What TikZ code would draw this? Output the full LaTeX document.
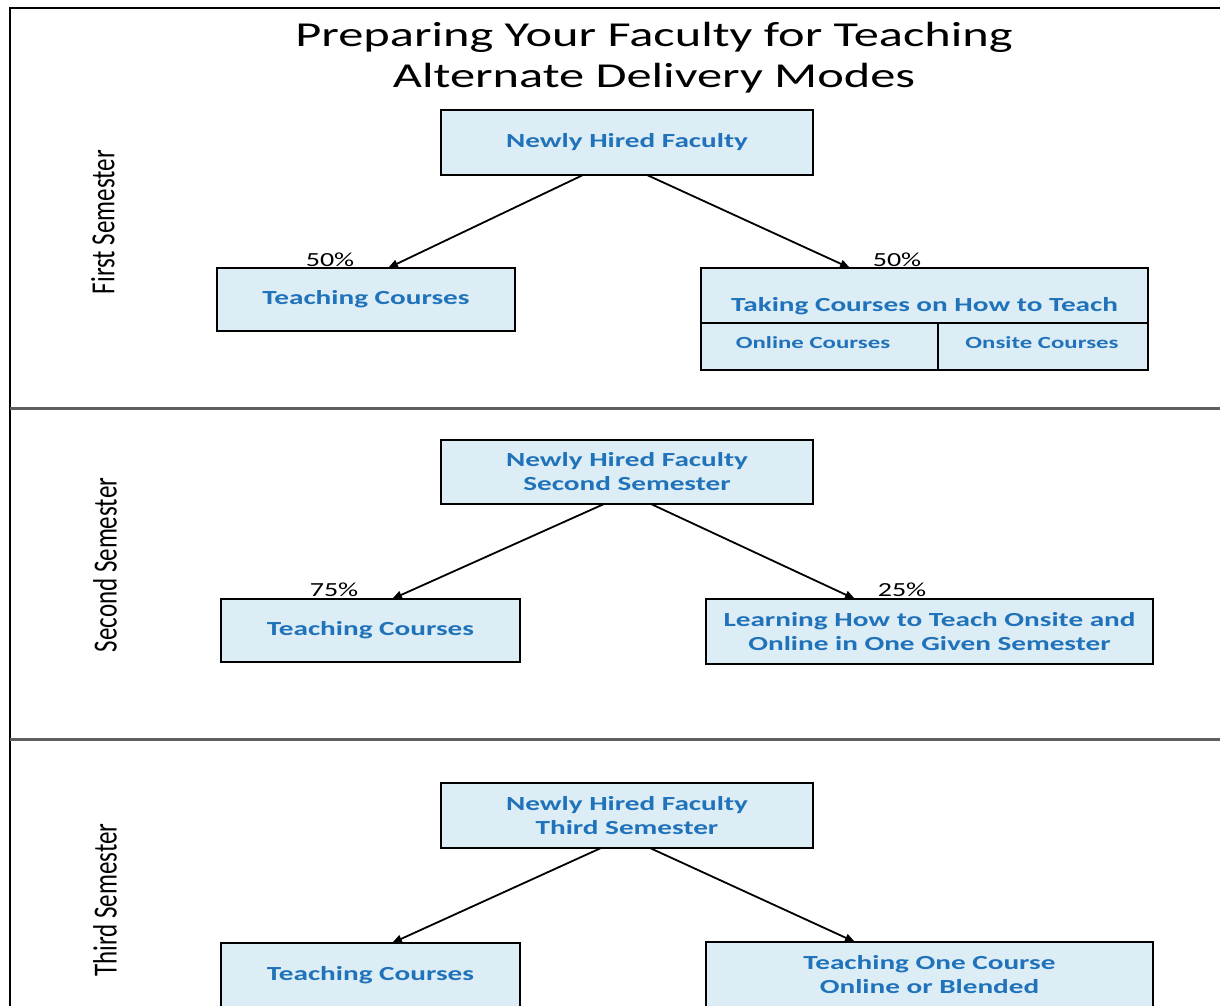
\documentclass[tikz,border=0pt]{standalone}
\usepackage{fontspec}
\setmainfont{Carlito}
\newfontfamily\boxf[FakeStretch=1.46]{Carlito}
\newfontfamily\pctf[FakeStretch=1.4]{Carlito}
\newfontfamily\titlef[FakeStretch=1.44]{Carlito}
\usetikzlibrary{arrows.meta}
\definecolor{boxfill}{RGB}{220,237,245}
\definecolor{boxtext}{RGB}{32,114,186}
\definecolor{divgray}{RGB}{95,95,95}
\begin{document}
\begin{tikzpicture}[x=1pt,y=-1pt,
  fbox/.style={draw=black,line width=2pt,fill=boxfill,inner sep=0pt,outer sep=0pt,align=center,text=boxtext,font=\boxf\bfseries\fontsize{20}{24}\selectfont},
  btext/.style={inner sep=0pt,align=center,text=boxtext,font=\boxf\bfseries\fontsize{20}{24}\selectfont},
  stext/.style={inner sep=0pt,align=center,text=boxtext,font=\boxf\bfseries\fontsize{17}{20}\selectfont},
  conn/.style={line width=1.8pt,-{Triangle[length=10pt,width=8pt]}},
  pct/.style={font=\pctf\fontsize{20}{24}\selectfont,inner sep=0pt,anchor=base},
  side/.style={rotate=90,font=\fontsize{25}{30}\selectfont,inner sep=0pt},
  frame/.style={line width=2pt,draw=black},
  divider/.style={line width=3pt,draw=divgray}]
\useasboundingbox (0,0) rectangle (1220,1005);
\clip (0,0) rectangle (1220,1005);
\fill[white] (0,0) rectangle (1220,1005);
% frame and dividers
\draw[frame] (1220,8) -- (10,8) -- (10,1010);
\draw[divider] (10,408) -- (1220,408);
\draw[divider] (10,739) -- (1220,739);
% title
\node[align=center,inner sep=0pt,font=\titlef\fontsize{35}{41}\selectfont] (title) at (654,58) {Preparing Your Faculty for Teaching\\Alternate Delivery Modes};
% side labels
\node[side] (s1) at (103,222) {\scalebox{1}[1.35]{First Semester}};
\node[side] (s2) at (105,565) {\scalebox{1}[1.35]{Second Semester}};
\node[side] (s3) at (105,900) {\scalebox{1}[1.35]{Third Semester}};
% section 1
\node[fbox,minimum width=372pt,minimum height=65pt] (A) at (627,142.5) {Newly Hired Faculty};
\node[fbox,minimum width=298pt,minimum height=63pt] (B) at (366,299.5) {Teaching Courses};
\node[fbox,minimum width=447pt,minimum height=102pt] (C) at (924.5,319) {};
\draw[line width=2pt] (701,323) -- (1148,323);
\draw[line width=2pt] (938,323) -- (938,370);
\node[btext] (Ct) at (924.5,306) {Taking Courses on How to Teach};
\node[stext] (C1) at (813,343) {Online Courses};
\node[stext] (C2) at (1042,343) {Onsite Courses};
\draw[conn] ([xshift=-44pt]A.south) -- ([xshift=22pt]B.north);
\draw[conn] ([xshift=20pt]A.south) -- ([xshift=-74.5pt]C.north);
\node[pct] (p1) at (330,266) {50\%};
\node[pct] (p2) at (897,266) {50\%};
% section 2
\node[fbox,minimum width=372pt,minimum height=64pt] (D) at (627,472) {Newly Hired Faculty\\Second Semester};
\node[fbox,minimum width=299pt,minimum height=63pt] (E) at (370.5,630.5) {Teaching Courses};
\node[fbox,minimum width=447pt,minimum height=65pt] (F) at (929.5,631.5) {Learning How to Teach Onsite and\\Online in One Given Semester};
\draw[conn] ([xshift=-23pt]D.south) -- ([xshift=21.5pt]E.north);
\draw[conn] ([xshift=24pt]D.south) -- ([xshift=-74.5pt]F.north);
\node[pct] (p3) at (334,596) {75\%};
\node[pct] (p4) at (902,596) {25\%};
% section 3
\node[fbox,minimum width=372pt,minimum height=65pt] (G) at (627,815.5) {Newly Hired Faculty\\Third Semester};
\node[fbox,minimum width=299pt,minimum height=64pt] (H) at (370.5,975) {Teaching Courses};
\node[fbox,minimum width=447pt,minimum height=65pt] (I) at (929.5,974.5) {Teaching One Course\\Online or Blended};
\draw[conn] ([xshift=-26pt]G.south) -- ([xshift=21.5pt]H.north);
\draw[conn] ([xshift=23pt]G.south) -- ([xshift=-74.5pt]I.north);
\end{tikzpicture}
\end{document}
